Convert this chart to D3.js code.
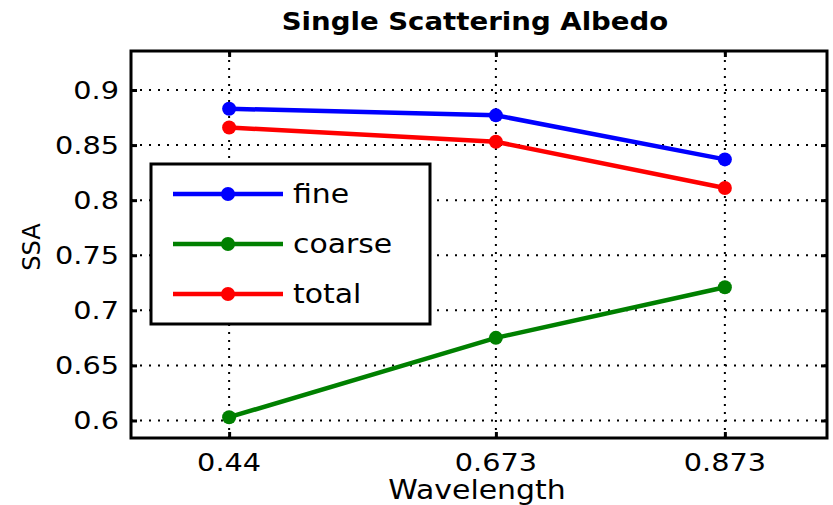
<!DOCTYPE html>
<html>
<head>
<meta charset="utf-8">
<script src="https://d3js.org/d3.v7.min.js"></script>
<style>
  html, body { margin: 0; padding: 0; background: #fff; }
  svg { display: block; }
  text { font-family: "DejaVu Sans", Verdana, sans-serif; fill: #000; }
</style>
</head>
<body>
<svg id="chart" width="833" height="505"></svg>
<script>
// Wavelengths (micrometres) and single scattering albedo per aerosol mode
const wavelengths = [0.44, 0.673, 0.873];
const fine   = [0.883, 0.877, 0.837];
const coarse = [0.603, 0.675, 0.721];
const total  = [0.866, 0.853, 0.811];
const yTicks = [0.6, 0.65, 0.7, 0.75, 0.8, 0.85, 0.9];
const xTickLabels = ["0.44", "0.673", "0.873"];
const seriesNames = ["fine", "coarse", "total"];
const seriesColors = ["#0000ff", "#008000", "#ff0000"];

const series = seriesNames.map((name, i) => ({
  name,
  color: seriesColors[i],
  values: [fine, coarse, total][i]
}));

const svg = d3.select("#chart");
const box = { left: 131, top: 51, right: 827, bottom: 438 };
const SX = 1.15; // horizontal stretch applied to all text

const x = d3.scaleLinear().domain([0.3543, 0.9622]).range([box.left, box.right]);
const y = d3.scaleLinear().domain([0.5841, 0.9354]).range([box.bottom, box.top]);

// place a horizontally widened text label at (tx, ty)
function label(parent, tx, ty, str, opts = {}) {
  const rot = opts.rotate ? ` rotate(${opts.rotate})` : "";
  return parent.append("text")
    .attr("transform", `translate(${tx},${ty})${rot} scale(${opts.sx || SX},1)`)
    .attr("text-anchor", opts.anchor || "middle")
    .attr("dominant-baseline", "central")
    .attr("font-size", opts.size || 25)
    .attr("font-weight", opts.weight || "normal")
    .text(str);
}

// dotted grid
const grid = svg.append("g");
grid.selectAll("line.gy").data(yTicks).join("line")
  .attr("x1", box.left).attr("x2", box.right)
  .attr("y1", d => y(d)).attr("y2", d => y(d))
  .attr("stroke", "#000").attr("stroke-width", 2).attr("stroke-dasharray", "2,7");
grid.selectAll("line.gx").data(wavelengths).join("line")
  .attr("y1", box.bottom).attr("y2", box.top)
  .attr("x1", d => x(d)).attr("x2", d => x(d))
  .attr("stroke", "#000").attr("stroke-width", 2).attr("stroke-dasharray", "2,6");

// inward ticks on all four sides
const tickLen = 6;
const axisG = svg.append("g");
axisG.append("g").attr("transform", `translate(${box.left},0)`)
  .call(d3.axisRight(y).tickValues(yTicks).tickSize(tickLen).tickFormat(""));
axisG.append("g").attr("transform", `translate(${box.right},0)`)
  .call(d3.axisLeft(y).tickValues(yTicks).tickSize(tickLen).tickFormat(""));
axisG.append("g").attr("transform", `translate(0,${box.bottom})`)
  .call(d3.axisTop(x).tickValues(wavelengths).tickSize(tickLen).tickFormat(""));
axisG.append("g").attr("transform", `translate(0,${box.top})`)
  .call(d3.axisBottom(x).tickValues(wavelengths).tickSize(tickLen).tickFormat(""));
axisG.selectAll(".domain").remove();
axisG.selectAll(".tick line").attr("stroke", "#000").attr("stroke-width", 3);

// frame
svg.append("rect")
  .attr("x", box.left).attr("y", box.top)
  .attr("width", box.right - box.left).attr("height", box.bottom - box.top)
  .attr("fill", "none").attr("stroke", "#000").attr("stroke-width", 3);

// tick labels
const yl = svg.append("g");
yTicks.forEach(t => label(yl, box.left - 12, y(t), d3.format("")(t), { anchor: "end" }));
const xl = svg.append("g");
wavelengths.forEach((w, i) => label(xl, x(w), 462, xTickLabels[i]));

// titles
label(svg, 475, 22, "Single Scattering Albedo", { size: 24, weight: "bold" });
label(svg, 477, 490, "Wavelength", { size: 26 });
label(svg, 32, 247, "SSA", { rotate: -90, size: 24, sx: 1.0 });

// series lines and markers
const line = d3.line().x((d, i) => x(wavelengths[i])).y(d => y(d));
const plot = svg.append("g");
series.forEach(s => {
  plot.append("path").datum(s.values)
    .attr("d", line).attr("fill", "none")
    .attr("stroke", s.color).attr("stroke-width", 4.5);
  plot.selectAll(null).data(s.values).join("circle")
    .attr("cx", (d, i) => x(wavelengths[i])).attr("cy", d => y(d))
    .attr("r", 7).attr("fill", s.color);
});

// legend
const lg = svg.append("g");
lg.append("rect").attr("x", 151).attr("y", 164).attr("width", 279).attr("height", 160)
  .attr("fill", "#fff").attr("stroke", "#000").attr("stroke-width", 3);
series.forEach((s, i) => {
  const ly = 194 + i * 50;
  lg.append("line").attr("x1", 173).attr("x2", 283).attr("y1", ly).attr("y2", ly)
    .attr("stroke", s.color).attr("stroke-width", 4.5);
  lg.append("circle").attr("cx", 228).attr("cy", ly).attr("r", 7).attr("fill", s.color);
  label(lg, 293, ly, s.name, { anchor: "start", size: 26 });
});
</script>
</body>
</html>
